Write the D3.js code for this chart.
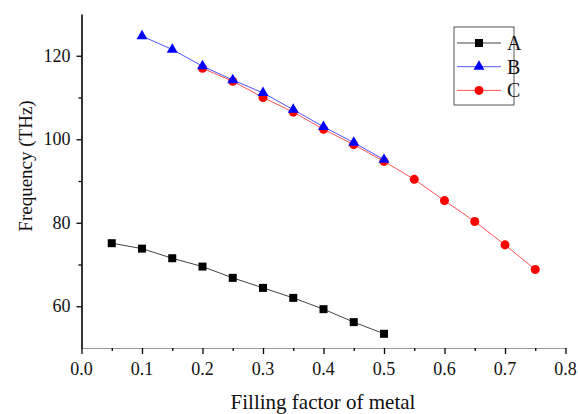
<!DOCTYPE html>
<html>
<head>
<meta charset="utf-8">
<script src="https://cdn.jsdelivr.net/npm/d3@7"></script>
<style>
  body { margin: 0; background: #fff; }
</style>
</head>
<body>
<div id="chart"></div>
<script>
// data
var xA = [0.05, 0.1, 0.15, 0.2, 0.25, 0.3, 0.35, 0.4, 0.45, 0.5];
var yA = [75.1, 73.8, 71.5, 69.5, 66.8, 64.4, 62.0, 59.3, 56.2, 53.4];

var xB = [0.1, 0.15, 0.2, 0.25, 0.3, 0.35, 0.4, 0.45, 0.5];
var yB = [124.7, 121.5, 117.5, 114.2, 111.1, 107.1, 103.0, 99.2, 95.1];

var xC = [0.2, 0.25, 0.3, 0.35, 0.4, 0.45, 0.5, 0.55, 0.6, 0.65, 0.7, 0.75];
var yC = [117.0, 113.9, 110.0, 106.5, 102.4, 98.7, 94.7, 90.4, 85.3, 80.3, 74.7, 68.8];

var xTicks = [0, 0.1, 0.2, 0.3, 0.4, 0.5, 0.6, 0.7, 0.8];
var xMinor = [0.05, 0.15, 0.25, 0.35, 0.45, 0.55, 0.65, 0.75];
var yTicks = [60, 80, 100, 120];
var yMinor = [70, 90, 110];

var seriesNames = ["A", "B", "C"];

var serif = "Liberation Serif";

// canvas
var svgWidth = 578;
var svgHeight = 414;
var margin = { top: 14, bottom: 66, left: 81.5, right: 12.5 };
var width = svgWidth - margin.left - margin.right;
var height = svgHeight - margin.top - margin.bottom;

var svg = d3.select("#chart")
  .append("svg")
  .attr("width", svgWidth)
  .attr("height", svgHeight)
  .attr("font-family", serif);

var chartGroup = svg.append("g")
  .attr("transform", `translate(${margin.left}, ${margin.top})`);

// scales
var xScale = d3.scaleLinear().domain([0, 0.8]).range([0, width]);
var yScale = d3.scaleLinear().domain([50, 130]).range([height, 0]);
var fmtX = d3.format(".1f");

// x axis (ticks from d3, labels added as plain text below)
var xAxisG = chartGroup.append("g")
  .attr("transform", `translate(0, ${height})`)
  .call(d3.axisBottom(xScale).tickValues(xTicks).tickFormat("").tickSizeInner(6).tickSizeOuter(0));
xAxisG.select(".domain").attr("stroke", "#999").attr("stroke-width", 1);
xAxisG.selectAll(".tick line").attr("stroke", "#000").attr("stroke-width", 1.3);

chartGroup.append("g")
  .attr("transform", `translate(0, ${height})`)
  .call(d3.axisBottom(xScale).tickValues(xMinor).tickFormat("").tickSizeInner(3).tickSizeOuter(0))
  .call(g => g.select(".domain").remove())
  .selectAll(".tick line").attr("stroke", "#000").attr("stroke-width", 1.3);

chartGroup.selectAll(".xlabel")
  .data(xTicks)
  .enter()
  .append("text")
  .attr("class", "xlabel")
  .attr("x", d => xScale(d))
  .attr("y", height + 27)
  .attr("text-anchor", "middle")
  .attr("font-family", serif)
  .attr("font-size", 18)
  .attr("fill", "#111")
  .text(d => fmtX(d));

// y axis
var yAxisG = chartGroup.append("g")
  .call(d3.axisLeft(yScale).tickValues(yTicks).tickFormat("").tickSizeInner(5).tickSizeOuter(0));
yAxisG.select(".domain").attr("stroke", "#000").attr("stroke-width", 1.6);
yAxisG.selectAll(".tick line").attr("stroke", "#000").attr("stroke-width", 1.3);

chartGroup.append("g")
  .call(d3.axisLeft(yScale).tickValues(yMinor).tickFormat("").tickSizeInner(3).tickSizeOuter(0))
  .call(g => g.select(".domain").remove())
  .selectAll(".tick line").attr("stroke", "#000").attr("stroke-width", 1.3);

chartGroup.selectAll(".ylabel")
  .data(yTicks)
  .enter()
  .append("text")
  .attr("class", "ylabel")
  .attr("x", -11)
  .attr("y", d => yScale(d))
  .attr("dy", "0.34em")
  .attr("text-anchor", "end")
  .attr("font-family", serif)
  .attr("font-size", 18)
  .attr("fill", "#111")
  .text(d => d);

// axis labels
svg.append("text")
  .attr("x", 323)
  .attr("y", 409)
  .attr("font-size", 21)
  .attr("text-anchor", "middle")
  .attr("fill", "#111")
  .text("Filling factor of metal");

svg.append("text")
  .attr("transform", "translate(32, 166) rotate(-90)")
  .attr("font-size", 19)
  .attr("text-anchor", "middle")
  .attr("fill", "#111")
  .text("Frequency (THz)");

// series
var series = [
  { name: "A", xs: xA, ys: yA, line: "#444", fill: "#000", shape: d3.symbolSquare, size: 64 },
  { name: "C", xs: xC, ys: yC, line: "#ff5555", fill: "#ff0000", shape: d3.symbolCircle, size: 64 },
  { name: "B", xs: xB, ys: yB, line: "#5555ff", fill: "#0000ff", shape: d3.symbolTriangle, size: 52 }
];

var line = d3.line()
  .x(d => xScale(d[0]))
  .y(d => yScale(d[1]));

series.forEach(function (s) {
  var pts = s.xs.map((x, i) => [x, s.ys[i]]);
  chartGroup.append("path")
    .datum(pts)
    .attr("d", line)
    .attr("fill", "none")
    .attr("stroke", s.line)
    .attr("stroke-width", 1);
  chartGroup.selectAll(null)
    .data(pts)
    .enter()
    .append("path")
    .attr("transform", d => `translate(${xScale(d[0])}, ${yScale(d[1])})`)
    .attr("d", d3.symbol().type(s.shape).size(s.size))
    .attr("fill", s.fill);
});

// legend
var legend = svg.append("g").attr("transform", "translate(454, 27)");
legend.append("rect")
  .attr("width", 60)
  .attr("height", 78)
  .attr("fill", "#fff")
  .attr("stroke", "#555")
  .attr("stroke-width", 1);

var legendRows = seriesNames.map(n => series.find(s => s.name === n));
legendRows.forEach(function (s, i) {
  var y = 16 + i * 23.7;
  legend.append("line")
    .attr("x1", 3).attr("x2", 47)
    .attr("y1", y).attr("y2", y)
    .attr("stroke", s.line)
    .attr("stroke-width", 1);
  legend.append("path")
    .attr("transform", `translate(25, ${y})`)
    .attr("d", d3.symbol().type(s.shape).size(s.size))
    .attr("fill", s.fill);
  legend.append("text")
    .attr("x", 53)
    .attr("y", y)
    .attr("dy", "0.35em")
    .attr("font-size", 20)
    .attr("fill", "#111")
    .text(s.name);
});
</script>
</body>
</html>
